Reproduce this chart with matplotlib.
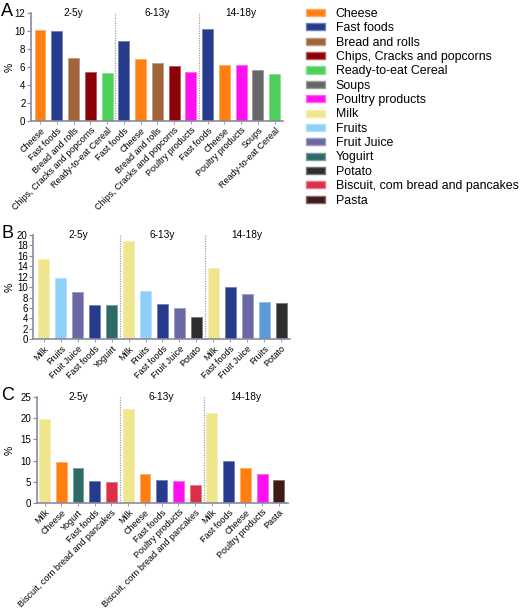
import matplotlib
matplotlib.use("Agg")
import matplotlib.pyplot as plt
import matplotlib.colors as mcolors
from matplotlib.patches import Patch
from matplotlib.transforms import blended_transform_factory

plt.rcParams['font.family'] = ['Liberation Sans', 'DejaVu Sans']

groups = ["2-5y", "6-13y", "14-18y"]

# panel A
a_labels = [["Cheese", "Fast foods", "Bread and rolls", "Chips, Cracks and popcorns", "Ready-to-eat Cereal"],
            ["Fast foods", "Cheese", "Bread and rolls", "Chips, Cracks and popcorns", "Poultry products"],
            ["Fast foods", "Cheese", "Poultry products", "Soups", "Ready-to-eat Cereal"]]
a_values = [[10.1, 9.95, 7.0, 5.4, 5.3],
            [8.9, 6.9, 6.5, 6.1, 5.5],
            [10.25, 6.25, 6.2, 5.7, 5.2]]

# panel B
b_labels = [["Milk", "Fruits", "Fruit Juice", "Fast foods", "Yoguirt"],
            ["Milk", "Fruits", "Fast foods", "Fruit Juice", "Potato"],
            ["Milk", "Fast foods", "Fruit Juice", "Fruits", "Potato"]]
b_values = [[15.4, 11.8, 9.0, 6.6, 6.5],
            [18.9, 9.3, 6.7, 6.0, 4.2],
            [13.7, 10.0, 8.6, 7.1, 6.9]]

# panel C
c_labels = [["Milk", "Cheese", "Yogurt", "Fast foods", "Biscuit, corn bread and pancakes"],
            ["Milk", "Cheese", "Fast foods", "Poultry products", "Biscuit, corn bread and pancakes"],
            ["Milk", "Fast foods", "Cheese", "Poultry products", "Pasta"]]
c_values = [[19.9, 9.7, 8.3, 5.2, 5.0],
            [22.2, 6.8, 5.5, 5.2, 4.2],
            [21.3, 9.8, 8.3, 6.8, 5.5]]

legend_names = ["Cheese", "Fast foods", "Bread and rolls", "Chips, Cracks and popcorns",
                "Ready-to-eat Cereal", "Soups", "Poultry products", "Milk", "Fruits",
                "Fruit Juice", "Yoguirt", "Potato", "Biscuit, corn bread and pancakes", "Pasta"]
legend_labels = legend_names[:12] + ["Biscuit, com bread and pancakes", "Pasta"]

colors = {
    "Cheese": "#FF8010",
    "Fast foods": "#263B8C",
    "Bread and rolls": "#A0643A",
    "Chips, Cracks and popcorns": "#8C0008",
    "Ready-to-eat Cereal": "#4DD05A",
    "Soups": "#666666",
    "Poultry products": "#FF10F0",
    "Milk": "#EFE58C",
    "Fruits": "#8FD0FA",
    "Fruit Juice": "#6B68A6",
    "Yoguirt": "#2E6A66",
    "Yogurt": "#2E6A66",
    "Potato": "#2E2E2E",
    "Biscuit, corn bread and pancakes": "#DC3048",
    "Pasta": "#3F1A16",
}

axis_col = "#8A8AA0"
W, H = 520.0, 609.0


def lighten(c, f=0.35):
    r, g, b = mcolors.to_rgb(c)
    return (r + (1 - r) * f, g + (1 - g) * f, b + (1 - b) * f)


def panel(rect, labels, values, ymax, ystep, xlim, letter, override=None):
    ax = fig.add_axes(rect)
    names = [n for grp in labels for n in grp]
    vals = [v for grp in values for v in grp]
    cols = [colors[n] for n in names]
    if override:
        for i, c in override.items():
            cols[i] = c
    xs = list(range(len(vals)))
    ax.bar(xs, vals, width=0.65, color=cols,
           edgecolor=[lighten(c) for c in cols], linewidth=0.6)
    ax.set_xlim(*xlim)
    ax.set_ylim(0, ymax)
    ax.set_yticks(range(0, ymax + 1, ystep))
    ax.set_xticks(xs)
    ax.set_xticklabels(names, rotation=45, ha='right', rotation_mode='anchor', fontsize=6.5)
    ax.tick_params(axis='y', labelsize=7, length=3, width=0.8, color=axis_col, pad=1)
    ax.tick_params(axis='x', length=2.5, width=0.6, color=axis_col, pad=1)
    for s in ['top', 'right']:
        ax.spines[s].set_visible(False)
    for s in ['left', 'bottom']:
        ax.spines[s].set_color(axis_col)
        ax.spines[s].set_linewidth(1.2)
    for xsep in (4.5, 9.5):
        ax.axvline(xsep, color="#A0A0A0", linestyle=(0, (1, 1)), linewidth=0.9, clip_on=False)
    tr = blended_transform_factory(ax.transData, ax.transAxes)
    for gi, g in enumerate(groups):
        ax.text(gi * 5 + 2, 1.0, g, transform=tr, ha='center', va='center', fontsize=7.3)
    fig.text(10 / W, rect[1] + rect[3] / 2, "%", rotation=90, fontsize=7.5,
             ha='center', va='center')
    fig.text(0.002, rect[1] + rect[3] + 0.002, letter, fontsize=13, va='center', ha='left')
    return ax


fig = plt.figure(figsize=(5.2, 6.09), dpi=100)

axA = panel([31 / W, 1 - 121 / H, 252 / W, 108 / H], a_labels, a_values, 12, 2,
            (-0.54, 14.5), "A")
axB = panel([33.3 / W, 1 - 339.3 / H, 256.7 / W, 104.3 / H], b_labels, b_values, 20, 2,
            (-0.63, 14.53), "B", override={13: "#5B9AD6"})
axC = panel([36.7 / W, 1 - 503 / H, 251 / W, 106 / H], c_labels, c_values, 25, 5,
            (-0.47, 14.53), "C")

handles = [Patch(facecolor=colors[n], edgecolor=lighten(colors[n])) for n in legend_names]
fig.legend(handles, legend_labels, loc='upper left', bbox_to_anchor=(306 / W, 1 - 8 / H),
           frameon=False, fontsize=8.9, handlelength=1.55, handleheight=0.5,
           handletextpad=0.85, labelspacing=0.19, borderpad=0, borderaxespad=0)

fig.savefig("out.png", dpi=100)
